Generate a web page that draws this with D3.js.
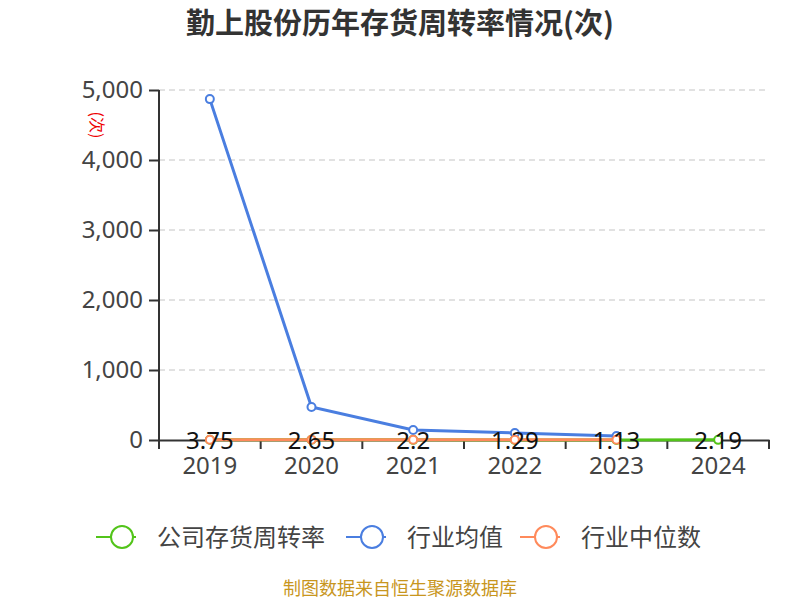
<!DOCTYPE html>
<html lang="zh">
<head>
  <meta charset="UTF-8">
  <title>勤上股份历年存货周转率情况(次)</title>
  <script src="https://d3js.org/d3.v7.min.js"></script>
  <style>
    html, body {
      margin: 0;
      padding: 0;
      background: #fff;
    }
    svg {
      display: block;
      font-family: "Noto Sans CJK SC", "Noto Sans", sans-serif;
    }
  </style>
</head>
<body>
<svg width="800" height="600"></svg>
<script>
  const years = ["2019", "2020", "2021", "2022", "2023", "2024"];
  const company = [3.75, 2.65, 2.2, 1.29, 1.13, 2.19];
  const industryAvg = [4870, 471, 143, 100, 57, null];
  const industryMedian = [4.5, 4.2, 4.3, 3.9, 3.6, null];
  const yTicks = [0, 1000, 2000, 3000, 4000, 5000];

  const colors = {company: "#52c41a", avg: "#4a7ee0", median: "#ff8a5b"};

  const svg = d3.select("svg");
  const plotLeft = 159, plotRight = 769, plotTop = 90, plotBottom = 440;

  const x = d3.scaleBand().domain(years).range([plotLeft, plotRight]);
  const y = d3.scaleLinear().domain([0, 5000]).range([plotBottom, plotTop]);
  const cx = d => x(d) + x.bandwidth() / 2;

  // title
  svg.append("text")
    .attr("x", 400).attr("y", 34)
    .attr("text-anchor", "middle")
    .attr("font-size", 29).attr("font-weight", "bold")
    .attr("fill", "#333")
    .text("勤上股份历年存货周转率情况(次)");

  // grid
  svg.append("g").selectAll("line")
    .data(yTicks.filter(d => d > 0))
    .join("line")
    .attr("x1", plotLeft).attr("x2", plotRight)
    .attr("y1", d => y(d)).attr("y2", d => y(d))
    .attr("stroke", "#c4c4c4").attr("stroke-dasharray", "6,4");

  // y axis
  const yAxis = svg.append("g")
    .attr("transform", `translate(${plotLeft},0)`)
    .call(d3.axisLeft(y).tickValues(yTicks).tickFormat(d3.format(",")).tickSize(10).tickPadding(6));
  yAxis.select(".domain").attr("stroke", "#333").attr("stroke-width", 2).attr("d", `M0,${plotTop}V${plotBottom}`);
  yAxis.selectAll(".tick line").attr("stroke", "#333").attr("stroke-width", 2);
  yAxis.selectAll("text").attr("font-size", 24).attr("fill", "#444")
    .attr("font-family", "'Noto Sans', sans-serif");

  // unit label
  svg.append("text")
    .attr("transform", `translate(91,125) rotate(90)`)
    .attr("text-anchor", "middle")
    .attr("font-size", 16).attr("fill", "#e00")
    .text("(次)");

  // x axis
  const xAxis = svg.append("g")
    .attr("transform", `translate(0,${plotBottom})`)
    .call(d3.axisBottom(x).tickSize(0).tickPadding(17));
  xAxis.select(".domain").attr("stroke", "#333").attr("stroke-width", 2);
  xAxis.selectAll("text").attr("font-size", 24).attr("fill", "#444")
    .attr("font-family", "'Noto Sans', sans-serif");
  svg.append("g").selectAll("line")
    .data(d3.range(years.length + 1))
    .join("line")
    .attr("x1", i => plotLeft + i * x.bandwidth()).attr("x2", i => plotLeft + i * x.bandwidth())
    .attr("y1", plotBottom).attr("y2", plotBottom + 9)
    .attr("stroke", "#333").attr("stroke-width", 2);

  const line = d3.line()
    .defined(d => d.v != null)
    .x(d => cx(d.year)).y(d => y(d.v));

  function series(values, color) {
    const pts = years.map((year, i) => ({year, v: values[i]})).filter(d => d.v != null);
    svg.append("path").datum(pts)
      .attr("d", line).attr("fill", "none")
      .attr("stroke", color).attr("stroke-width", 3);
    svg.append("g").selectAll("circle").data(pts).join("circle")
      .attr("cx", d => cx(d.year)).attr("cy", d => y(d.v)).attr("r", 4)
      .attr("fill", "#fff").attr("stroke", color).attr("stroke-width", 2);
  }

  series(company, colors.company);
  series(industryAvg, colors.avg);
  series(industryMedian, colors.median);

  // value labels for company
  svg.append("g").selectAll("text")
    .data(years.map((year, i) => ({year, v: company[i]})))
    .join("text")
    .attr("x", d => cx(d.year)).attr("y", d => y(d.v) + 9)
    .attr("text-anchor", "middle")
    .attr("font-size", 24).attr("fill", "#111")
    .attr("font-family", "'Noto Sans', sans-serif")
    .text(d => d.v);

  // legend
  const legend = [
    {name: "公司存货周转率", color: colors.company, x: 96},
    {name: "行业均值", color: colors.avg, x: 346},
    {name: "行业中位数", color: colors.median, x: 520}
  ];
  const lg = svg.append("g").selectAll("g").data(legend).join("g")
    .attr("transform", d => `translate(${d.x},537)`);
  lg.append("line").attr("x1", 0).attr("x2", 40)
    .attr("stroke", d => d.color).attr("stroke-width", 2);
  lg.append("circle").attr("cx", 26).attr("r", 11)
    .attr("fill", "#fff").attr("stroke", d => d.color).attr("stroke-width", 2);
  lg.append("text").attr("x", 61).attr("y", 9)
    .attr("font-size", 24).attr("fill", "#444")
    .text(d => d.name);

  // source
  svg.append("text")
    .attr("x", 400).attr("y", 595)
    .attr("text-anchor", "middle")
    .attr("font-size", 18).attr("fill", "#c8961e")
    .text("制图数据来自恒生聚源数据库");
</script>
</body>
</html>
